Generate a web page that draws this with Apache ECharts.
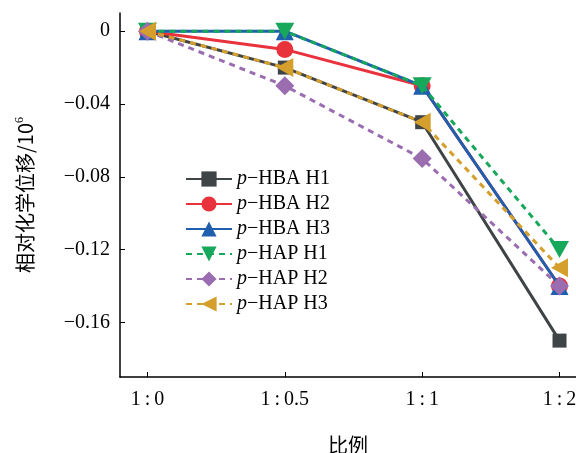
<!DOCTYPE html>
<html><head><meta charset="utf-8">
<script src="https://cdn.jsdelivr.net/npm/echarts@6/dist/echarts.min.js"></script>
<style>html,body{margin:0;padding:0;background:#fff}#c{width:576px;height:453px}</style>
</head><body><div id="c"></div>
<script>
const categories = ['1:0', '1:0.5', '1:1', '1:2'];
const yTicks = [0, -0.04, -0.08, -0.12, -0.16];
const names = ['−HBA H1', '−HBA H2', '−HBA H3', '−HAP H1', '−HAP H2', '−HAP H3'];
const hbaH1 = [0, -0.02, -0.05, -0.17];
const hbaH2 = [0, -0.01, -0.03, -0.14];
const hbaH3 = [0, 0, -0.03, -0.14];
const hapH1 = [0, 0, -0.03, -0.12];
const hapH2 = [0, -0.03, -0.07, -0.14];
const hapH3 = [0, -0.02, -0.05, -0.13];

const values = [hbaH1, hbaH2, hbaH3, hapH1, hapH2, hapH3];
const colors = ['#3f4447', '#e8323c', '#1f5fae', '#18a85b', '#9a6cb0', '#d49f2c'];
const symbols = ['rect', 'circle', 'triangle', 'path://M0,0 L10,0 L5,9 Z', 'diamond', 'path://M0,5 L9,0 L9,10 Z'];
const sizes = [14, 17, 18, [19, 17], 19, [17, 19]];
const dashed = [false, false, false, true, true, true];
const serif = '"Liberation Serif","DejaVu Serif",serif';

const series = values.map((v, i) => ({
  name: names[i],
  type: 'line',
  data: v.map((y, k) => [k, y]),
  symbol: symbols[i],
  symbolSize: sizes[i],
  showAllSymbol: true,
  lineStyle: { color: colors[i], width: 3, type: dashed[i] ? [6, 5] : 'solid' },
  itemStyle: { color: colors[i] },
  emphasis: { disabled: true },
  z: 2 + i
}));

const chart = echarts.init(document.getElementById('c'));
chart.setOption({
  animation: false,
  grid: { left: 120, top: 13, right: 0, bottom: 76, containLabel: false, outerBoundsMode: 'none' },
  xAxis: {
    type: 'value', min: -0.2, max: 3.12,
    splitLine: { show: false },
    axisLine: { onZero: false, lineStyle: { color: '#000', width: 1.5 } },
    axisTick: { inside: true, length: 5, customValues: [0, 1, 2, 3], lineStyle: { color: '#000' } },
    axisLabel: { customValues: [0, 1, 2, 3], formatter: v => categories[Math.round(v)].replace(':', '\u2009:\u2009'), color: '#000', fontFamily: serif, fontSize: 20, margin: 13 },
    name: '比例', nameLocation: 'middle', nameGap: 58,
    nameTextStyle: { color: '#000', fontSize: 20, fontFamily: '"Noto Sans CJK SC",sans-serif' }
  },
  yAxis: {
    type: 'value', min: -0.19, max: 0.01,
    splitLine: { show: false },
    axisLine: { show: true, onZero: false, lineStyle: { color: '#000', width: 1.5 } },
    axisTick: { show: true, inside: true, length: 5, customValues: yTicks, lineStyle: { color: '#000' } },
    axisLabel: { customValues: yTicks, formatter: v => v === 0 ? '0' : '−' + Math.abs(v).toFixed(2), color: '#000', fontFamily: serif, fontSize: 20, margin: 10 },
    name: '{a|相对化学位移/10}{s|6}', nameLocation: 'middle', nameGap: 84,
    nameTextStyle: {
      rich: {
        a: { color: '#000', fontSize: 20, fontFamily: '"Noto Sans CJK SC",sans-serif' },
        s: { color: '#000', fontSize: 12, fontFamily: serif, verticalAlign: 'top', padding: [0, 0, 10, 0] }
      }
    }
  },
  legend: {
    orient: 'vertical', left: 180, top: 164,
    itemWidth: 46, itemHeight: 19, itemGap: 5,
    data: names,
    formatter: n => '{i|p}{n|' + n + '}',
    textStyle: {
      rich: {
        i: { fontStyle: 'italic', fontFamily: serif, fontSize: 20, color: '#000' },
        n: { fontFamily: serif, fontSize: 20, color: '#000' }
      }
    }
  },
  series
});
</script></body></html>
